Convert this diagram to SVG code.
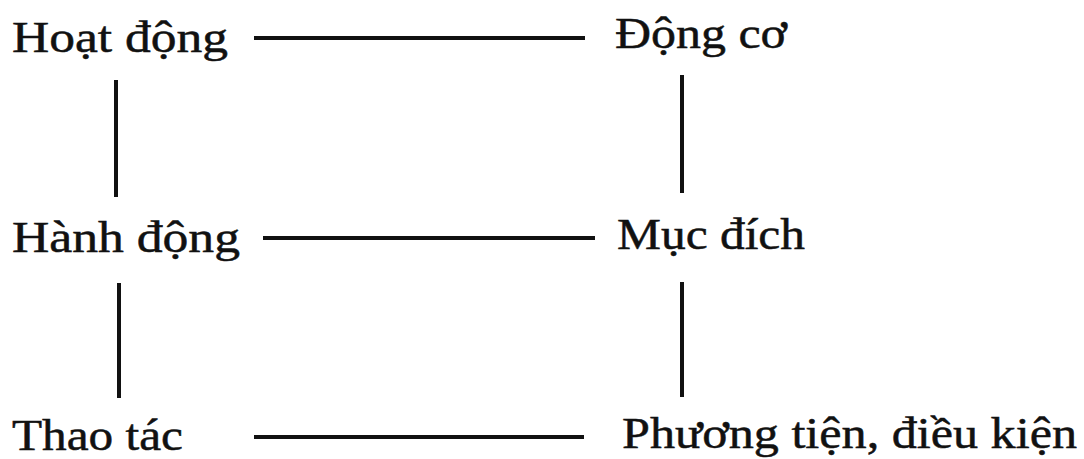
<svg xmlns="http://www.w3.org/2000/svg" width="1084" height="459" viewBox="0 0 1084 459">
<style>
.t{font-family:"Liberation Serif","DejaVu Serif",serif;font-size:44px;fill:#111;stroke:#111;stroke-width:0.5}
.c{stroke:#111;stroke-width:4;stroke-linecap:butt;fill:none}
</style>
<rect width="1084" height="459" fill="#fff"/>
<g id="n-hoatdong"><text class="t" x="12" y="52" textLength="216" lengthAdjust="spacingAndGlyphs">Hoạt động</text></g>
<g id="n-dongco"><text class="t" x="615" y="48" textLength="172" lengthAdjust="spacingAndGlyphs">Động cơ</text></g>
<g id="n-hanhdong"><text class="t" x="12" y="252" textLength="228" lengthAdjust="spacingAndGlyphs">Hành động</text></g>
<g id="n-mucdich"><text class="t" x="617" y="249" textLength="188" lengthAdjust="spacingAndGlyphs">Mục đích</text></g>
<g id="n-thaotac"><text class="t" x="12" y="450" textLength="171" lengthAdjust="spacingAndGlyphs">Thao tác</text></g>
<g id="n-phuongtien"><text class="t" x="622" y="448" textLength="455" lengthAdjust="spacingAndGlyphs">Phương tiện, điều kiện</text></g>
<g id="connectors">
<line class="c" x1="254" y1="38" x2="585" y2="38"/>
<line class="c" x1="263" y1="238" x2="595" y2="238"/>
<line class="c" x1="254" y1="437" x2="584" y2="437"/>
<line class="c" x1="116" y1="80" x2="116" y2="197"/>
<line class="c" x1="682" y1="75" x2="682" y2="193"/>
<line class="c" x1="119" y1="283" x2="119" y2="398"/>
<line class="c" x1="682" y1="282" x2="682" y2="397"/>
</g>
</svg>
